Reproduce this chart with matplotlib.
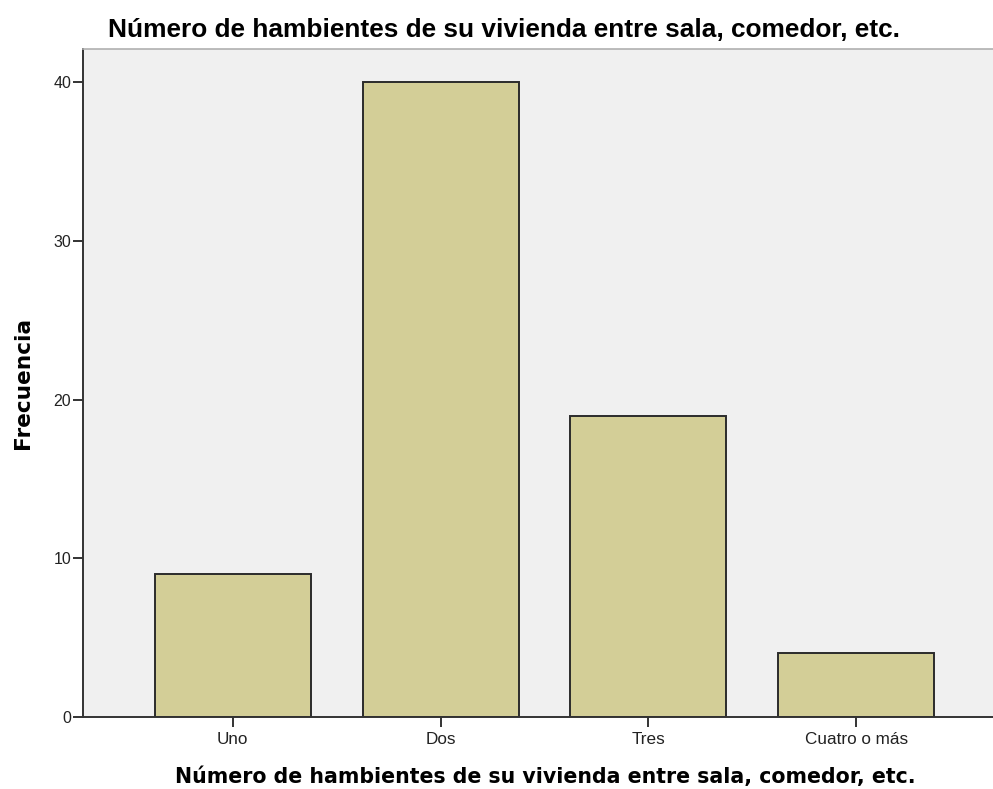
import numpy as np
import matplotlib.pyplot as plt

categorias = ['Uno', 'Dos', 'Tres', 'Cuatro o más']
frecuencia = [9, 40, 19, 4]
yticks = [0, 10, 20, 30, 40]
titulo = 'Número de hambientes de su vivienda entre sala, comedor, etc.'

fig = plt.figure(figsize=(9.93, 7.89), dpi=100)
ax = fig.add_axes([0.0836, 0.0913, 0.9295, 0.8466])
ax.set_facecolor('#f0f0f0')

x = np.arange(len(categorias))
ax.bar(x, frecuencia, width=0.75, color='#d3ce97', edgecolor='#2b2b2b', linewidth=1.4, zorder=2)

ax.set_xlim(-0.72, 3.72)
ax.set_ylim(0, 42.1)
ax.set_xticks(x)
ax.set_xticklabels(categorias, fontsize=12.3, family='Liberation Sans', color='#222222')
ax.set_yticks(yticks)
ax.set_yticklabels([str(v) for v in yticks], fontsize=11.5, family='Liberation Sans', color='#222222')
ax.tick_params(axis='both', direction='out', length=7.5, width=1.4, color='#333333')
ax.tick_params(axis='y', pad=1)
ax.tick_params(axis='x', pad=3)

for s in ['left', 'bottom']:
    ax.spines[s].set_color('#333333')
    ax.spines[s].set_linewidth(1.4)
ax.spines['top'].set_color('#b0b0b0')
ax.spines['top'].set_linewidth(1.2)
ax.spines['right'].set_visible(False)

fig.text(0.5076, 0.962, titulo, ha='center', va='center', fontsize=18.9,
         family='Liberation Sans', fontweight='bold')
fig.text(0.549, 0.015, titulo, ha='center', va='center', fontsize=14.8,
         family='DejaVu Sans', fontweight='bold')
fig.texts[-1].set_y(1 - 777 / 789)
fig.text(0.023, 1 - 383 / 789, 'Frecuencia', ha='center', va='center', rotation=90,
         fontsize=15.6, family='DejaVu Sans', fontweight='bold')

fig.savefig('out.png', dpi=100)
